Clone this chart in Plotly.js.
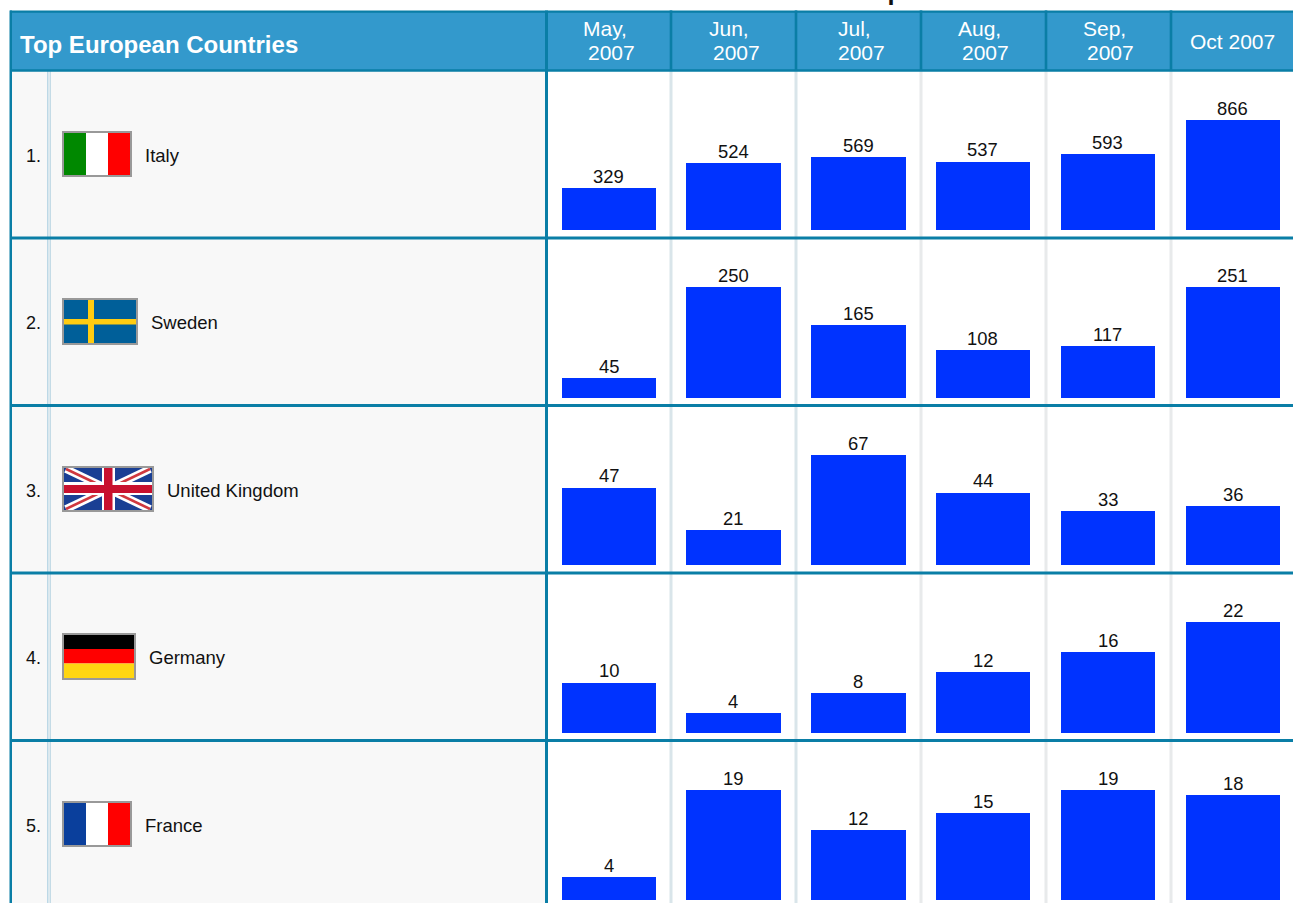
<!DOCTYPE html>
<html>
<head>
<meta charset="utf-8">
<title>6 Month Historical Comparison</title>
<script src="https://cdn.plot.ly/plotly-3.0.1.min.js"></script>
<style>
html,body{margin:0;padding:0;background:#fff;overflow:hidden}
#chart{position:absolute;left:0;top:0;width:1293px;height:903px}
</style>
</head>
<body>
<div id="chart"></div>
<script>
// ---- Data ----
const chartTitle = '6 Month Historical Comparison';
const tableHeading = 'Top European Countries';
const countries = ['Italy', 'Sweden', 'United Kingdom', 'Germany', 'France'];
const ranks = ['1.', '2.', '3.', '4.', '5.'];
const months = ['May 2007', 'Jun 2007', 'Jul 2007', 'Aug 2007', 'Sep 2007', 'Oct 2007'];
const italy = [329, 524, 569, 537, 593, 866];
const sweden = [45, 250, 165, 108, 117, 251];
const unitedKingdom = [47, 21, 67, 44, 33, 36];
const germany = [10, 4, 8, 12, 16, 22];
const france = [4, 19, 12, 15, 19, 18];
const rows = [italy, sweden, unitedKingdom, germany, france];

// ---- Page geometry (pixels) ----
const W = 1293, H = 903;
const px = v => v / W;
const py = v => 1 - v / H;
const barLeft = [562, 686, 811, 936, 1061, 1186];
const barRight = [656, 781, 906, 1030, 1155, 1280];
const rowBase = [230, 398, 565, 733, 900];
const barMaxHeight = [110.4, 111, 110.4, 111, 110.4];
const colLines = [671, 796, 921, 1046, 1171];
const rowLines = [238, 405.5, 573, 740.5];
const rowMid = [156, 323, 491, 658, 826];
const nameLeft = [145, 151, 167, 149, 145];
const FONT = '"Liberation Sans", Arial, sans-serif';
const TEAL = '#0a7ea6', HEAD = '#3399cc', BAR = '#0033ff';
const TEXT = '#111111';

// ---- Traces ----
const traces = [];
const layout = {
  width: W, height: H,
  margin: {l: 0, r: 0, t: 0, b: 0, pad: 0},
  paper_bgcolor: '#ffffff',
  plot_bgcolor: 'rgba(0,0,0,0)',
  showlegend: false,
  bargap: 0,
  font: {family: FONT, color: TEXT},
  shapes: [],
  annotations: []
};
const A = layout.annotations;
months.forEach((m, c) => {
  layout['xaxis' + (c ? c + 1 : '')] = {
    domain: [px(barLeft[c]), px(barRight[c])],
    type: 'category', range: [-0.5, 0.5], visible: false, fixedrange: true
  };
});
rows.forEach((vals, r) => {
  layout['yaxis' + (r ? r + 1 : '')] = {
    domain: [py(rowBase[r]), py(rowBase[r] - barMaxHeight[r])],
    range: [0, Math.max(...vals)], visible: false, fixedrange: true
  };
  vals.forEach((v, c) => {
    const xa = 'x' + (c ? c + 1 : ''), ya = 'y' + (r ? r + 1 : '');
    traces.push({
      type: 'bar',
      name: countries[r] + ' ' + months[c],
      x: [months[c]],
      y: [v],
      xaxis: xa,
      yaxis: ya,
      marker: {color: BAR, line: {width: 0}},
      hoverinfo: 'skip'
    });
    A.push({
      text: String(v), xref: xa, yref: ya, x: 0, y: v,
      xanchor: 'center', yanchor: 'middle', yshift: 11.6, xshift: -0.5,
      showarrow: false, borderpad: 0, borderwidth: 0,
      font: {family: FONT, size: 18.4, color: TEXT}
    });
  });
});

// ---- Table frame ----
const rect = (x0, y0, x1, y1, fill, layer) => ({
  type: 'rect', xref: 'paper', yref: 'paper',
  x0: px(x0), x1: px(x1), y0: py(y0), y1: py(y1),
  fillcolor: fill, line: {width: 0}, layer: layer || 'below'
});
const S = layout.shapes;
S.push(rect(12, 71, 546, H, '#f8f8f8'));
S.push(rect(47, 71, 48.5, H, '#bcd8e6'));
S.push(rect(49.5, 71, 51, H, '#c4dbe6'));
colLines.forEach((x, i) => {
  S.push(rect(x - 1.5, 71, x + 1.5, H, i < 2 ? '#d9e5ea' : '#e8eaeb'));
});
S.push(rect(10, 11, W, 71, HEAD));
rowLines.forEach(y => S.push(rect(10, y - 1.5, W, y + 1.5, TEAL)));
S.push(rect(10, 10.4, W, 12.8, TEAL));
S.push(rect(10, 69.3, W, 71.8, TEAL));
S.push(rect(9.5, 10.4, 12, H, TEAL));
S.push(rect(545, 10.4, 548, H, TEAL));
colLines.forEach(x => S.push(rect(x - 1.3, 10.4, x + 1.3, 71, TEAL)));

// ---- Flags ----
const frame = (x0, y0, x1, y1) => ({
  type: 'rect', xref: 'paper', yref: 'paper',
  x0: px(x0 + 1), x1: px(x1 - 1), y0: py(y0 + 1), y1: py(y1 - 1),
  fillcolor: 'rgba(0,0,0,0)', line: {color: '#999999', width: 2}, layer: 'above'
});
const stripe = (x0, y0, x1, y1, col) => rect(x0, y0, x1, y1, col, 'above');
const seg = (x0, y0, x1, y1, col, w) => ({
  type: 'line', xref: 'paper', yref: 'paper',
  x0: px(x0), x1: px(x1), y0: py(y0), y1: py(y1),
  line: {color: col, width: w}, layer: 'above'
});
// Italy
S.push(stripe(62, 131, 86, 177, '#008800'), stripe(86, 131, 108, 177, '#ffffff'), stripe(108, 131, 132, 177, '#ff0000'), frame(62, 131, 132, 177));
// Sweden
S.push(stripe(62, 298, 138, 345, '#005f99'), stripe(88, 298, 94, 345, '#ffcc11'), stripe(62, 319, 138, 324.5, '#ffcc11'), frame(62, 298, 138, 345));
// United Kingdom
S.push(stripe(62, 466, 154, 512, '#1a3f94'));
S.push(seg(66, 469, 150, 509, '#ffffff', 8), seg(66, 509, 150, 469, '#ffffff', 8));
S.push(seg(66, 469, 150, 509, '#d0383f', 2.5), seg(66, 509, 150, 469, '#d0383f', 2.5));
S.push(stripe(102, 466, 115, 512, '#ffffff'), stripe(62, 482, 154, 495, '#ffffff'));
S.push(stripe(104, 466, 112.5, 512, '#c8102e'), stripe(62, 485, 154, 493, '#c8102e'));
S.push(frame(62, 466, 154, 512));
// Germany
S.push(stripe(62, 633, 136, 649, '#000000'), stripe(62, 649, 136, 663.5, '#ff0000'), stripe(62, 663.5, 136, 680, '#ffd611'), frame(62, 633, 136, 680));
// France
S.push(stripe(62, 801, 86, 847, '#0a3f9c'), stripe(86, 801, 108, 847, '#ffffff'), stripe(108, 801, 132, 847, '#ff0000'), frame(62, 801, 132, 847));

// ---- Text ----
const label = (text, x, y, anchor, size, color, bold) => ({
  text: bold ? '<b>' + text + '</b>' : text,
  xref: 'paper', yref: 'paper', x: px(x), y: py(y),
  xanchor: anchor, yanchor: 'middle', showarrow: false,
  font: {family: FONT, size: size, color: color},
  borderpad: 0, borderwidth: 0
});
A.push(label(chartTitle, 791, -9.2, 'center', 25.4, TEXT, true));
A.push(label(tableHeading, 20, 44.5, 'left', 24, '#ffffff', true));
const headLine1 = ['May,', 'Jun,', 'Jul,', 'Aug,', 'Sep,'];
const headLine2 = ['2007', '2007', '2007', '2007', '2007'];
const headX1 = [605, 728.5, 854.5, 979, 1104.5];
const headX2 = [611, 736, 861, 985.5, 1110.5];
headLine1.forEach((t, i) => {
  A.push(label(t, headX1[i], 28, 'center', 21, '#ffffff'));
  A.push(label(headLine2[i], headX2[i], 52.5, 'center', 21, '#ffffff'));
});
A.push(label('Oct 2007', 1232.5, 42, 'center', 21, '#ffffff'));
countries.forEach((name, r) => {
  A.push(label(ranks[r], 26, rowMid[r], 'left', 18, TEXT));
  A.push(label(name, nameLeft[r], rowMid[r] - 0.5, 'left', 18.5, TEXT));
});

Plotly.newPlot('chart', traces, layout, {displayModeBar: false, staticPlot: true});
</script>
</body>
</html>
